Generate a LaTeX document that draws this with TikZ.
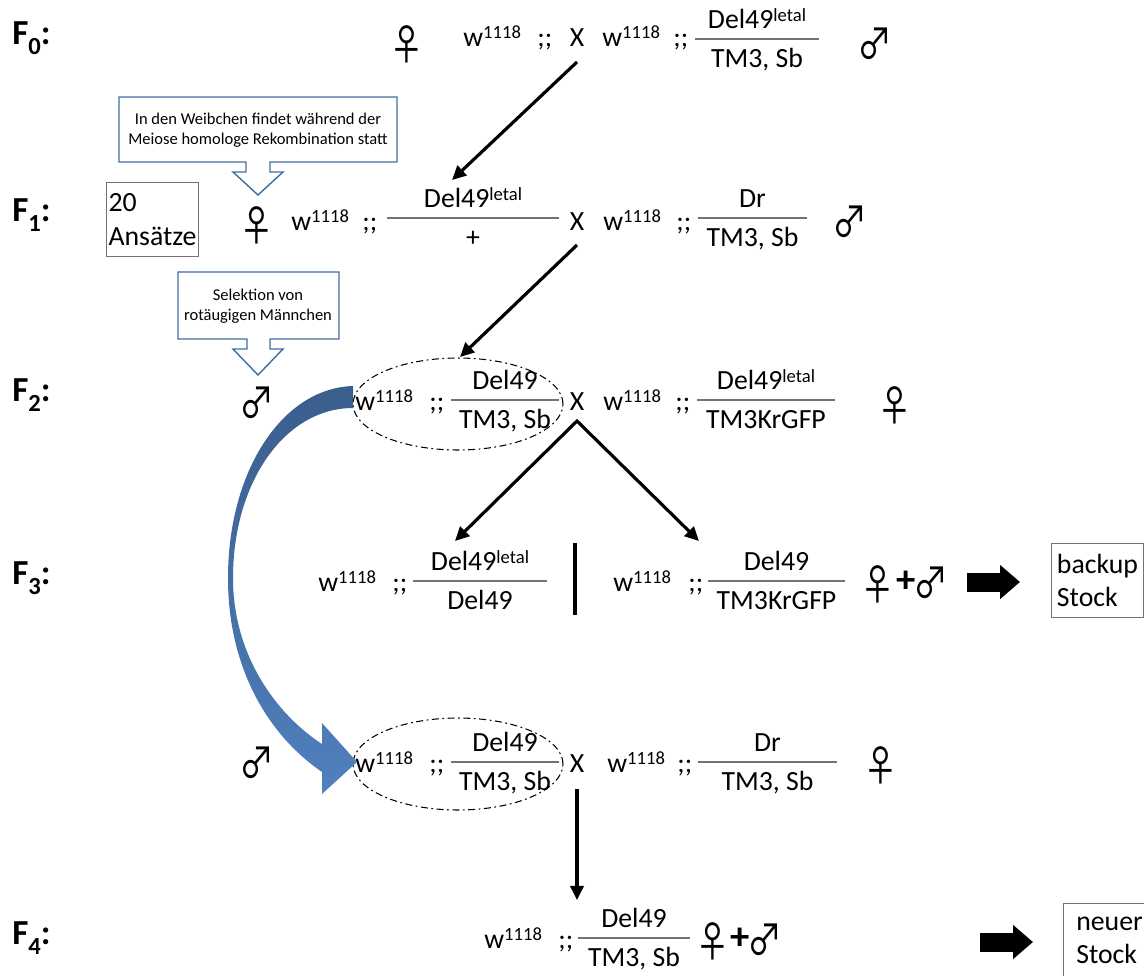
\documentclass[tikz,border=0pt]{standalone}
\usepackage{fontspec}
\setmainfont{Carlito}
\newfontfamily\symb{Noto Sans CJK JP}
\usetikzlibrary{arrows.meta,shapes.geometric}

\definecolor{callblue}{RGB}{65,108,160}
\definecolor{bandtop}{RGB}{58,94,140}
\definecolor{bandbot}{RGB}{80,128,190}

\newcommand{\hoch}[1]{\raisebox{0.26em}{\fontsize{10.6}{12}\selectfont #1}}
\newcommand{\tief}[1]{\raisebox{-6pt}{\fontsize{14}{16}\selectfont #1}}
\newcommand{\wt}{w\hoch{1118}}
\newcommand{\fem}{\scalebox{0.9}[1.1]{\symb\fontsize{22}{22}\selectfont ♀}}
\newcommand{\mal}{\scalebox{0.9}[1.1]{\symb\fontsize{22}{22}\selectfont ♂}}

\tikzset{
  gen/.style={anchor=base west, inner sep=0pt, font=\fontsize{20}{22}\selectfont\bfseries},
  geno/.style={anchor=base west, inner sep=0pt},
  sex/.style={anchor=center, inner sep=0pt},
  plus/.style={anchor=center, inner sep=0pt, font=\fontsize{22}{22}\selectfont\bfseries},
  fracline/.style={draw=black!55, line width=0.8pt},
  num/.style={midway, anchor=base, yshift=5.7pt, inner sep=0pt},
  den/.style={midway, anchor=base, yshift=-16.4pt, inner sep=0pt},
  crossarrow/.style={-{Triangle[length=8pt,width=7.5pt]}, line width=1.8pt},
  dblarrow/.style={{Triangle[length=8pt,width=7.5pt]}-{Triangle[length=8pt,width=7.5pt]}, line width=1.8pt},
  blockarrow/.style={-{Triangle[length=0.4cm,width=0.66cm]}, line width=0.38cm},
  stockbox/.style={draw=black!55, line width=0.6pt, align=left, inner sep=0pt,
    minimum width=1.84cm, minimum height=1.48cm, anchor=north west},
  callout/.style={draw=callblue, line width=0.8pt, fill=white},
  calltext/.style={align=center, inner sep=0pt, font=\fontsize{9.4}{11.3}\selectfont},
  selring/.style={ellipse, draw, line width=0.6pt, dash pattern=on 4pt off 2pt on 1pt off 2pt,
    minimum width=4.2cm, minimum height=1.84cm, inner sep=0pt}
}

\begin{document}
\begin{tikzpicture}[x=0.02cm, y=-0.02cm, font=\fontsize{15.8}{19}\selectfont]
\useasboundingbox (0,0) rectangle (1144,975);

% generations
\draw (12,44) node[gen](g0){F\tief{0}:}
    (12,221) node[gen](g1){F\tief{1}:}
    (12,401) node[gen](g2){F\tief{2}:}
    (12,584) node[gen](g3){F\tief{3}:}
    (12,944) node[gen](g4){F\tief{4}:};

% F0
\draw (407,44) node[sex](f0w){\fem}
    (463,46) node[geno](f0a){\wt}
    (537,46) node[geno](f0b){;;}
    (577,46) node[geno,anchor=base](x0){X}
    (602,46) node[geno](f0c){\wt}
    (673,46) node[geno](f0d){;;}
    (875,44) node[sex](f0m){\mal};
\coordinate (f0l) at (695,39);
\coordinate (f0r) at (819,39);
\draw[fracline] (f0l) -- (f0r) node[num](f0n){Del49\hoch{letal}} node[den](f0z){TM3, Sb};

% callouts
\draw[callout] (119,97) -- (397,97) -- (397,162) -- (270,162) -- (270,172) -- (283,172)
    -- (258,195) -- (233,172) -- (246,172) -- (246,162) -- (119,162) -- cycle;
\node[calltext](c1) at (258,130) {In den Weibchen findet während der\\Meiose homologe Rekombination statt};
\draw[callout] (178,272) -- (339,272) -- (339,339) -- (270,339) -- (270,349) -- (283,349)
    -- (258,375) -- (233,349) -- (247,349) -- (247,339) -- (178,339) -- cycle;
\node[calltext](c2) at (258,306) {Selektion von\\rotäugigen Männchen};

% F1
\node[stockbox](ans) at (106,182) {20\\Ansätze};
\draw (257,225) node[sex](f1w){\fem}
    (291,230) node[geno](f1a){\wt}
    (362,230) node[geno](f1b){;;}
    (577,230) node[geno,anchor=base](x1){X}
    (603,230) node[geno](f1c){\wt}
    (676,230) node[geno](f1d){;;}
    (850,222) node[sex](f1m){\mal};
\coordinate (f1l) at (387,218);
\coordinate (f1r) at (559,218);
\coordinate (f1s) at (698,218);
\coordinate (f1t) at (807,218);
\draw[fracline] (f1l) -- (f1r) node[num](f1n){Del49\hoch{letal}} node[den](f1z){+};
\draw[fracline] (f1s) -- (f1t) node[num](f1o){Dr} node[den](f1y){TM3, Sb};

% F2
\node[selring](sel1) at (458,404) {};
\draw (257,403) node[sex](f2m){\mal}
    (355,410) node[geno](f2a){\wt}
    (429,410) node[geno](f2b){;;}
    (577,410) node[geno,anchor=base](x2){X}
    (603,410) node[geno](f2c){\wt}
    (675,410) node[geno](f2d){;;}
    (895,405) node[sex](f2w){\fem};
\coordinate (f2l) at (451,400);
\coordinate (f2r) at (559,400);
\coordinate (f2s) at (697,400);
\coordinate (f2t) at (835,400);
\draw[fracline] (f2l) -- (f2r) node[num](f2n){Del49} node[den](f2z){TM3, Sb};
\draw[fracline] (f2s) -- (f2t) node[num](f2o){Del49\hoch{letal}} node[den](f2y){TM3KrGFP};

% F3
\draw (318,591) node[geno](f3a){\wt}
    (392,591) node[geno](f3b){;;}
    (613,591) node[geno](f3c){\wt}
    (688,591) node[geno](f3d){;;}
    (878,584) node[sex](f3w){\fem}
    (906,582) node[plus](f3p){+}
    (931,583) node[sex](f3m){\mal};
\coordinate (f3l) at (413,581);
\coordinate (f3r) at (547,581);
\coordinate (f3s) at (708,581);
\coordinate (f3t) at (845,581);
\draw[fracline] (f3l) -- (f3r) node[num](f3n){Del49\hoch{letal}} node[den](f3z){Del49};
\draw[fracline] (f3s) -- (f3t) node[num](f3o){Del49} node[den](f3y){TM3KrGFP};
\coordinate (bar1) at (575,543);
\coordinate (bar2) at (575,615);
\draw[line width=2.2pt] (bar1) -- (bar2);
\node[stockbox](backup) at (1051,543) {backup\\Stock};
\coordinate (ba3) at (967,582);
\draw[blockarrow, shorten >=0.62cm] (ba3) -- (ba3 -| backup.west);

% back cross
\node[selring](sel2) at (458,764) {};
\draw (257,763) node[sex](f5m){\mal}
    (355,772) node[geno](f5a){\wt}
    (429,772) node[geno](f5b){;;}
    (577,772) node[geno,anchor=base](x5){X}
    (607,772) node[geno](f5c){\wt}
    (677,772) node[geno](f5d){;;}
    (881,765) node[sex](f5w){\fem};
\coordinate (f5l) at (451,762);
\coordinate (f5r) at (559,762);
\coordinate (f5s) at (698,762);
\coordinate (f5t) at (837,762);
\draw[fracline] (f5l) -- (f5r) node[num](f5n){Del49} node[den](f5z){TM3, Sb};
\draw[fracline] (f5s) -- (f5t) node[num](f5o){Dr} node[den](f5y){TM3, Sb};

% F4
\draw (484,948) node[geno](f4a){\wt}
    (558,948) node[geno](f4b){;;}
    (713,941) node[sex](f4w){\fem}
    (740,939) node[plus](f4p){+}
    (765,940) node[sex](f4m){\mal};
\coordinate (f4l) at (578,938);
\coordinate (f4r) at (690,938);
\draw[fracline] (f4l) -- (f4r) node[num](f4n){Del49} node[den](f4z){TM3, Sb};
\node[stockbox](neu) at (1063,903) {neuer\\Stock};
\coordinate (ba4) at (980,942);
\draw[blockarrow, shorten >=0.6cm] (ba4) -- (ba4 -| neu.west);

% crosses
\coordinate (s0) at (577,62);
\coordinate (t0) at (452,180);
\coordinate (s1) at (577,245);
\coordinate (t1) at (460,357);
\coordinate (v2) at (577,421);
\coordinate (t2l) at (455,541);
\coordinate (t2r) at (699,541);
\coordinate (s5) at (577,789);
\coordinate (t5) at (577,900);
\draw[crossarrow] (s0) -- (t0);
\draw[crossarrow] (s1) -- (t1);
\draw[dblarrow] (t2l) -- (v2) -- (t2r);
\draw[crossarrow] (s5) -- (t5);

% selected males
\shade[top color=bandtop, bottom color=bandbot]
    (353,386) .. controls (283,388) and (228,470) .. (228,578)
    .. controls (228,668) and (268,735) .. (322,772) -- (322,794) -- (357,762) -- (322,723) -- (322,744)
    .. controls (276,714) and (233,655) .. (233,578)
    .. controls (233,482) and (285,408) .. (353,408) -- cycle;
\end{tikzpicture}
\end{document}
